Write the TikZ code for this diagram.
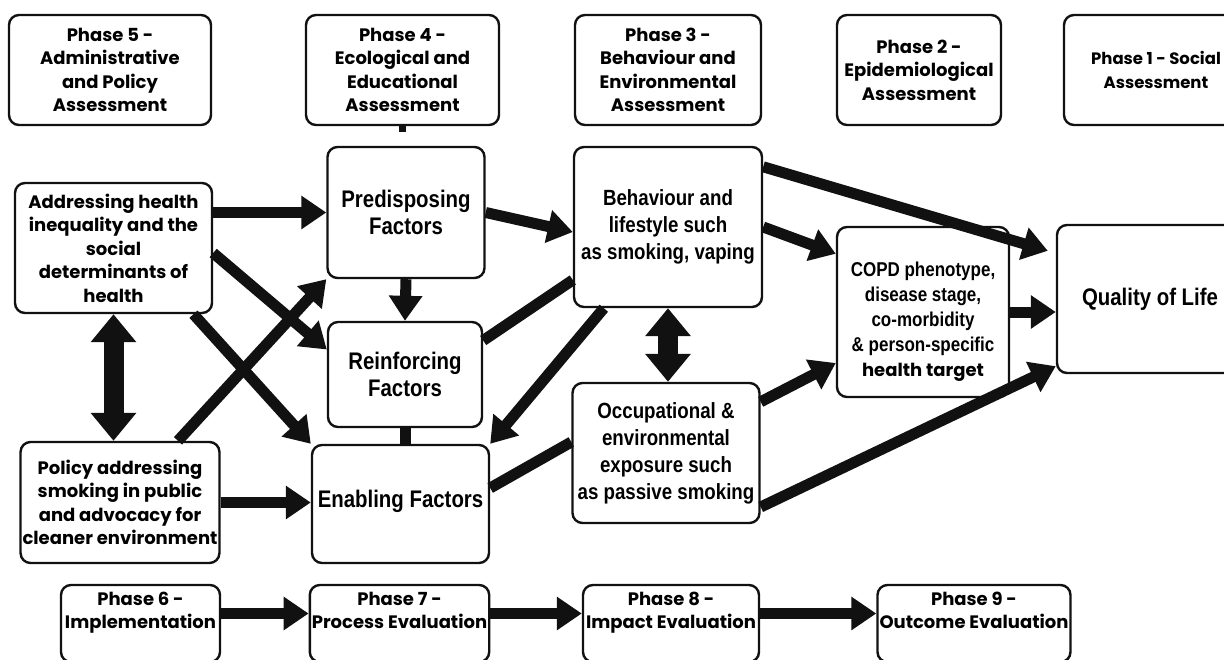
\documentclass[tikz,border=0pt]{standalone}
\usepackage{fontspec}
\setmainfont{Poppins}
\newfontfamily\condfont{Liberation Sans}[FakeStretch=0.85]
\usepackage{xcolor}
\definecolor{boxline}{HTML}{111111}
\usetikzlibrary{arrows.meta,positioning}

\tikzset{
  box/.style={draw=boxline,line width=2.4pt,rounded corners=10pt,fill=white,align=center,inner sep=2pt},
  phasebox/.style={box,font=\bfseries\fontsize{18}{23.5}\selectfont},
  factorbox/.style={box,font=\condfont\bfseries\fontsize{24}{27}\selectfont},
  bigarrow/.style={draw=boxline,line width=11pt,-{Triangle[length=25pt,width=32pt]}},
  bigline/.style={draw=boxline,line width=11pt},
  bothways/.style={draw=boxline,line width=20pt,{Triangle[length=28pt,width=44pt]}-{Triangle[length=28pt,width=44pt]}},
}

\begin{document}
\begin{tikzpicture}[x=1pt,y=-1pt]
\useasboundingbox (0,0) rectangle (1224,659);
\clip (0,0) rectangle (1224,659);

% assessment phases
\node[phasebox,minimum width=202pt,minimum height=110pt] (p5) at (110,70) {Phase 5 -\\Administrative\\and Policy\\Assessment};
\node[phasebox,minimum width=193pt,minimum height=110pt] (p4) at (402.5,70) {Phase 4 -\\Ecological and\\Educational\\Assessment};
\node[phasebox,minimum width=186pt,minimum height=110pt] (p3) at (668,70) {Phase 3 -\\Behaviour and\\Environmental\\Assessment};
\node[phasebox,minimum width=164pt,minimum height=110pt] (p2) at (919,70) {Phase 2 -\\Epidemiological\\Assessment};
\node[phasebox,minimum width=184pt,minimum height=110pt,font=\bfseries\fontsize{16.5}{23.5}\selectfont] (p1) at (1156,70) {Phase 1 - Social\\Assessment};

% model boxes
\node[phasebox,minimum width=197pt,minimum height=130pt] (addr) at (113.5,248) {Addressing health\\inequality and the\\social\\determinants of\\health};
\node[phasebox,minimum width=196pt,minimum height=121pt] (policy) at (120,502.5) {Policy addressing\\smoking in public\\and advocacy for\\cleaner environment};
\node[factorbox,minimum width=157pt,minimum height=131pt] (predis) at (406,212.5) {Predisposing\\Factors};
\node[factorbox,minimum width=154pt,minimum height=105pt] (reinf) at (405,374.5) {Reinforcing\\Factors};
\node[factorbox,minimum width=177pt,minimum height=118pt] (enab) at (400.5,504) {\raisebox{-3pt}[0pt][0pt]{Enabling Factors}};
\node[factorbox,minimum width=188pt,minimum height=160pt,font=\condfont\bfseries\fontsize{22}{27}\selectfont] (behav) at (668,227) {Behaviour and\\lifestyle such\\as smoking, vaping};
\node[factorbox,minimum width=187pt,minimum height=140pt,font=\condfont\bfseries\fontsize{22}{27}\selectfont] (occup) at (666,453) {Occupational \&\\environmental\\exposure such\\as passive smoking};
\node[factorbox,minimum width=172pt,minimum height=170pt,font=\condfont\bfseries\fontsize{20}{25}\selectfont] (copd) at (923,312) {\raisebox{-15pt}[0pt][0pt]{\begin{tabular}{@{}c@{}}COPD phenotype,\\disease stage,\\co-morbidity\\\&\ person-specific\\{\rmfamily\bfseries\fontsize{18}{25}\selectfont health target}\end{tabular}}};
\node[factorbox,minimum width=186pt,minimum height=148pt] (qol) at (1150,299) {Quality of Life};

% evaluation phases
\node[phasebox,minimum width=159pt,minimum height=77pt] (p6) at (140.5,623.5) {\raisebox{7pt}[0pt][0pt]{\begin{tabular}{@{}c@{}}Phase 6 -\\Implementation\end{tabular}}};
\node[phasebox,minimum width=171pt,minimum height=77pt] (p7) at (399.5,623.5) {\raisebox{7pt}[0pt][0pt]{\begin{tabular}{@{}c@{}}Phase 7 -\\Process Evaluation\end{tabular}}};
\node[phasebox,minimum width=176pt,minimum height=77pt] (p8) at (671,623.5) {\raisebox{7pt}[0pt][0pt]{\begin{tabular}{@{}c@{}}Phase 8 -\\Impact Evaluation\end{tabular}}};
\node[phasebox,minimum width=182pt,minimum height=77pt] (p9) at (974,623.5) {\raisebox{7pt}[0pt][0pt]{\begin{tabular}{@{}c@{}}Phase 9 -\\Outcome Evaluation\end{tabular}}};

% connectors
\coordinate (p4stub) at ([yshift=-6pt]p4.south);
\draw[line width=7pt,draw=boxline] (p4.south) -- (p4stub);
\draw[bigarrow] (addr.east |- predis.west) -- (predis.west);
\draw[bigarrow] ([yshift=-5pt]addr.east) -- ([yshift=25pt]reinf.west);
\draw[bigarrow] ([xshift=80pt]addr.south) -- (enab.north west);
\draw[bigarrow] ([xshift=58pt]policy.north) -- (predis.south west);
\draw[bothways] (addr.south) -- (addr.south |- policy.north);
\draw[bigarrow] (predis.south) -- (reinf.north);
\draw[bigline] (reinf.south) -- (reinf.south |- enab.north);
\draw[bigarrow] (predis.east) -- ([yshift=-5pt]behav.west);
\draw[bigline] ([yshift=34pt]reinf.east) -- ([yshift=-53pt]behav.west);
\draw[bigarrow] ([xshift=31pt]behav.south west) -- (enab.north east);
\draw[bigline] ([yshift=11pt]occup.west) -- ([yshift=16pt]enab.east);
\draw[bothways] (behav.south) -- (behav.south |- occup.north);
\draw[bigarrow] (behav.east) -- ([yshift=-28pt]copd.north west);
\draw[bigarrow] ([yshift=-21pt]behav.north east) -- ([shift={(-8pt,-27pt)}]qol.north west);
\draw[bigarrow] (copd.east) -- (copd.east -| qol.west);
\draw[bigarrow] ([yshift=-20pt]occup.north east) -- ([yshift=-51pt]copd.west);
\draw[bigarrow] ([yshift=-54pt]occup.east) -- ([yshift=8pt]qol.south west);
\draw[bigarrow] (policy.east) -- (policy.east -| enab.west);
\foreach \a/\b in {p6/p7,p7/p8,p8/p9}
  \draw[bigarrow] ([yshift=10pt]\a.east) -- ([yshift=10pt]\b.west);
\end{tikzpicture}
\end{document}
